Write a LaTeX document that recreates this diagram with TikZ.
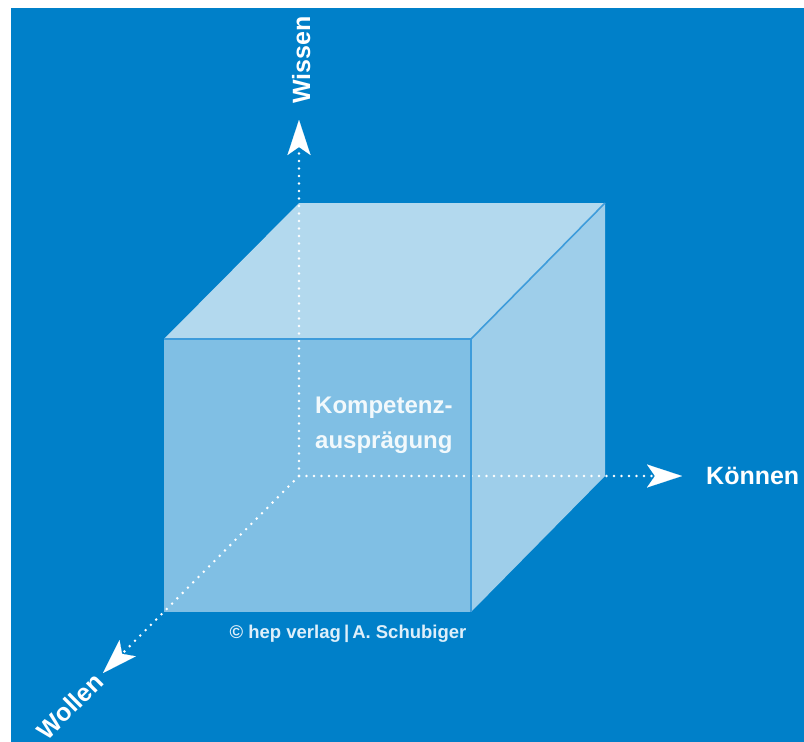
\documentclass[tikz,border=0pt]{standalone}
\usepackage{fontspec}
\setmainfont{Liberation Sans}
\usetikzlibrary{arrows.meta}
\definecolor{hepblue}{RGB}{0,128,201}
\definecolor{edgeblue}{RGB}{62,156,219}
\definecolor{paleblue}{RGB}{222,239,250}

\begin{document}
\begin{tikzpicture}[x=1pt,y=-1pt,
    axisline/.style={white,line width=2.8pt,line cap=round,dash pattern=on 0pt off 7.5pt,
        -{Stealth[length=35pt,width=23pt,inset=8pt,line width=0.1pt]}},
    cubeface/.style={fill=white,fill opacity=#1},
    cubeedge/.style={edgeblue,line width=1.6pt},
    axislabel/.style={white,inner sep=0pt,font=\fontsize{25}{30}\selectfont\bfseries}]
    % background
    \fill[white] (0,0) rectangle (804,742);
    \fill[hepblue] (11,8) rectangle (804,742);
    %% corners of the cube
    \coordinate (O) at (299,476);
    \coordinate (fbl) at (164,612);
    \coordinate (fbr) at (471,612);
    \coordinate (ftr) at (471,339);
    \coordinate (ftl) at (164,339);
    \coordinate (btl) at (299,203);
    \coordinate (btr) at (605,203);
    \coordinate (bbr) at (605,476);
    %% ends of the axes
    \coordinate (wissentip) at (299,120);
    \coordinate (koennentip) at (682,476);
    \coordinate (wollentip) at (103,673);
    \draw[axisline] (O) -- (wissentip);
    \draw[axisline] (O) -- (koennentip);
    \draw[axisline] (O) -- (wollentip);
    %% faces
    \fill[cubeface=0.5] (fbl) -- (fbr) -- (ftr) -- (ftl) -- cycle;
    \fill[cubeface=0.7] (ftl) -- (btl) -- (btr) -- (ftr) -- cycle;
    \fill[cubeface=0.62] (ftr) -- (btr) -- (bbr) -- (fbr) -- cycle;
    \draw[cubeedge] (ftl) -- (ftr) -- (fbr);
    \draw[cubeedge] (ftr) -- (btr);
    %% labels
    \node[axislabel,rotate=90,anchor=base west] (wissen) at (310,104) {Wissen};
    \node[axislabel,anchor=base west] (koennen) at (706,484) {Können};
    \node[axislabel,rotate=45] (wollen) at (70,706) {Wollen};
    \node[anchor=north west,align=left,inner sep=0pt,text=white!95!hepblue,
        font=\fontsize{24}{35}\selectfont\bfseries] (kompetenz) at (315,397)
        {Kompetenz-\\ausprägung};
    \node[anchor=base,inner sep=0pt,text=paleblue,
        font=\fontsize{18.5}{22}\selectfont\bfseries] (copyright) at (348,638)
        {© hep verlag\,|\,A. Schubiger};
\end{tikzpicture}
\end{document}
